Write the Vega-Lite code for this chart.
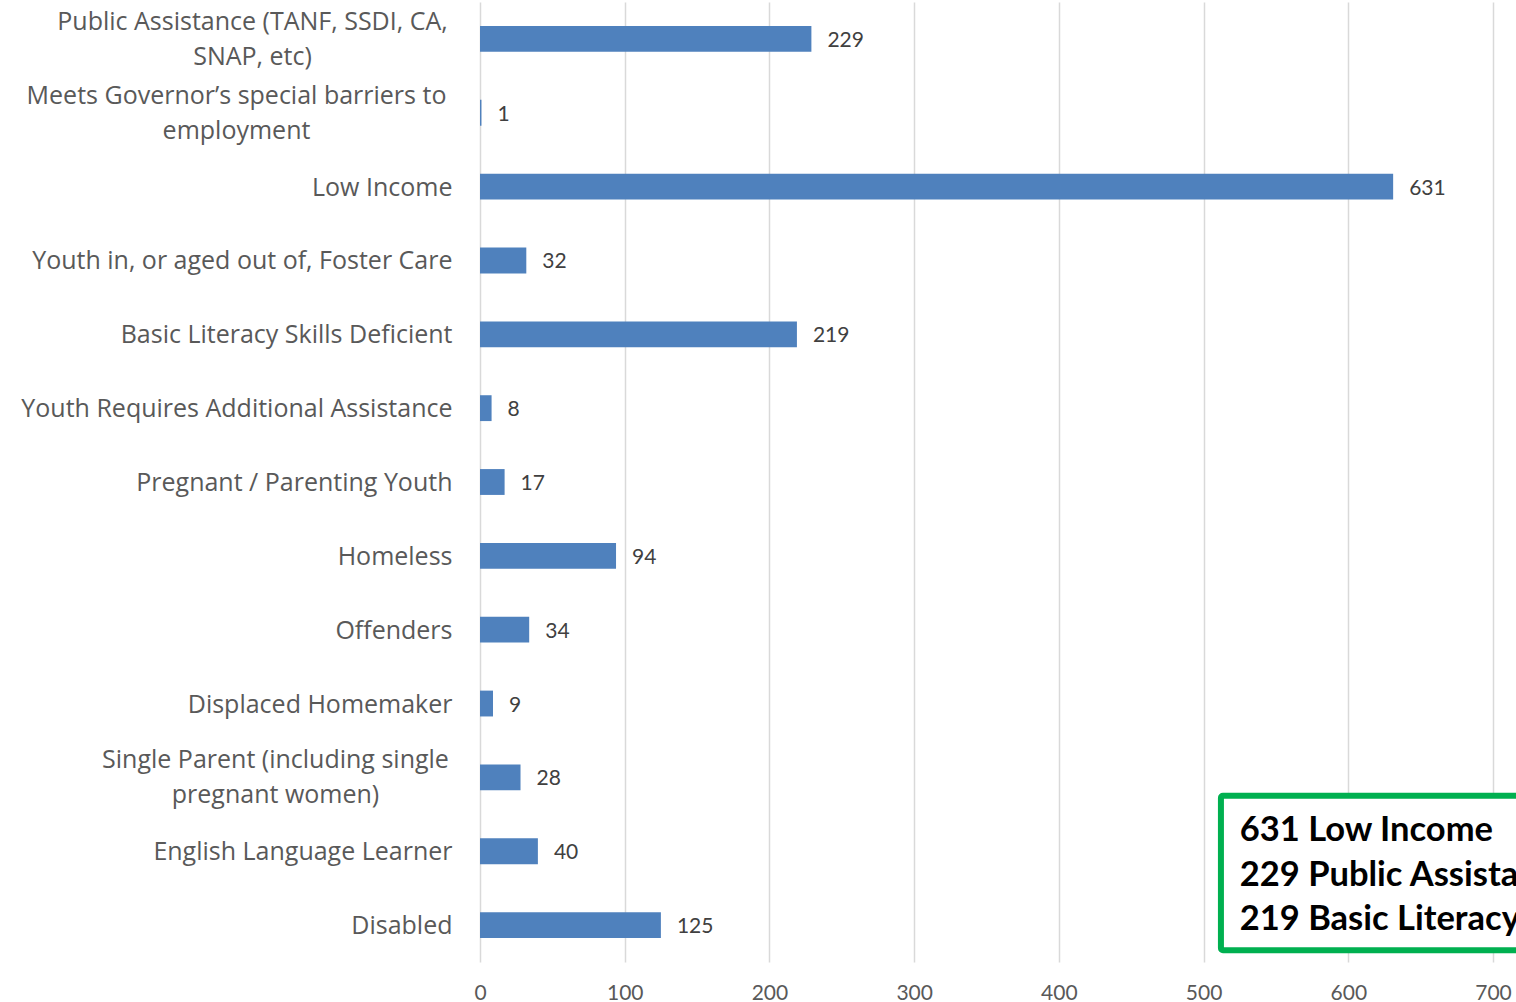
{
  "$schema": "https://vega.github.io/schema/vega-lite/v6.json",
  "autosize": {"type": "none"},
  "padding": {"left": 480, "top": 2, "right": 23, "bottom": 40},
  "width": 1013,
  "height": 960,
  "background": "white",
  "config": {"view": {"stroke": null}, "font": "Lato"},
  "datasets": {
    "main": [
      {"category": "Public Assistance (TANF, SSDI, CA, SNAP, etc)", "count": 229},
      {"category": "Meets Governor’s special barriers to employment", "count": 1},
      {"category": "Low Income", "count": 631},
      {"category": "Youth in, or aged out of, Foster Care", "count": 32},
      {"category": "Basic Literacy Skills Deficient", "count": 219},
      {"category": "Youth Requires Additional Assistance", "count": 8},
      {"category": "Pregnant / Parenting Youth", "count": 17},
      {"category": "Homeless", "count": 94},
      {"category": "Offenders", "count": 34},
      {"category": "Displaced Homemaker", "count": 9},
      {"category": "Single Parent (including single pregnant women)", "count": 28},
      {"category": "English Language Learner", "count": 40},
      {"category": "Disabled", "count": 125}
    ],
    "note": [
      {"x0": 512, "x1": 760, "top": 10.75, "bottom": 12.84, "tx": 525, "ty": 11.0, "text": "631 Low Income\n229 Public Assistance\n219 Basic Literacy"}
    ]
  },
  "resolve": {"scale": {"y": "independent"}},
  "layer": [
    {
      "data": {"name": "main"},
      "layer": [
        {
          "mark": {"type": "bar", "color": "#4F81BD"},
          "encoding": {
            "y": {
              "field": "category", "type": "nominal", "sort": null,
              "scale": {"paddingInner": 0.65, "paddingOuter": 0.325},
              "axis": {
                "title": null, "domain": false, "ticks": false,
                "labelFontSize": 25, "labelColor": "#595959", "labelFont": "Open Sans",
                "labelLimit": 600, "labelLineHeight": 35,
                "labelOffset": {"condition": {"test": "indexof(datum.value, 'Public Assistance') == 0 || indexof(datum.value, 'Meets') == 0 || indexof(datum.value, 'Single Parent') == 0", "value": -17}, "value": 1},
                "labelPadding": {"condition": [
                  {"test": "indexof(datum.value, 'Public Assistance') == 0", "value": 228},
                  {"test": "indexof(datum.value, 'Meets') == 0", "value": 244},
                  {"test": "indexof(datum.value, 'Single Parent') == 0", "value": 205}
                ], "value": 28},
                "labelAlign": {"condition": {"test": "indexof(datum.value, 'Public Assistance') == 0 || indexof(datum.value, 'Meets') == 0 || indexof(datum.value, 'Single Parent') == 0", "value": "center"}, "value": "right"},
                "labelExpr": "datum.label == 'Public Assistance (TANF, SSDI, CA, SNAP, etc)' ? ['Public Assistance (TANF, SSDI, CA,', 'SNAP, etc)'] : datum.label == 'Meets Governor’s special barriers to employment' ? ['Meets Governor’s special barriers to', 'employment'] : datum.label == 'Single Parent (including single pregnant women)' ? ['Single Parent (including single', 'pregnant women)'] : datum.label"
              }
            },
            "x": {
              "field": "count", "type": "quantitative",
              "scale": {"domain": [0, 700], "nice": false},
              "axis": {
                "title": null, "domain": false, "ticks": false,
                "values": [0, 100, 200, 300, 400, 500, 600, 700],
                "grid": true, "gridColor": "#D9D9D9", "gridWidth": 1.5,
                "labelFontSize": 21, "labelColor": "#595959", "labelFont": "Lato",
                "labelPadding": 20, "labelFlush": false
              }
            }
          }
        },
        {
          "mark": {"type": "text", "align": "left", "baseline": "middle", "dx": 16, "dy": 2, "fontSize": 21, "color": "#404040", "font": "Lato"},
          "encoding": {
            "y": {"field": "category", "type": "nominal", "sort": null},
            "x": {"field": "count", "type": "quantitative"},
            "text": {"field": "count", "type": "quantitative"}
          }
        }
      ]
    },
    {
      "data": {"name": "note"},
      "layer": [
        {
          "mark": {"type": "rect", "fill": "white", "stroke": "#00B050", "strokeWidth": 6, "cornerRadius": 2, "clip": false},
          "encoding": {
            "x": {"field": "x0", "type": "quantitative"},
            "x2": {"field": "x1"},
            "y": {"field": "top", "type": "quantitative", "scale": {"domain": [0, 13], "reverse": true, "nice": false, "zero": false}, "axis": null},
            "y2": {"field": "bottom"}
          }
        },
        {
          "mark": {"type": "text", "align": "left", "baseline": "top", "lineBreak": "\n", "lineHeight": 44.5, "fontSize": 34.5, "fontWeight": "bold", "color": "#000000", "font": "Lato"},
          "encoding": {
            "x": {"field": "tx", "type": "quantitative"},
            "y": {"field": "ty", "type": "quantitative"},
            "text": {"field": "text", "type": "nominal"}
          }
        }
      ]
    }
  ]
}
